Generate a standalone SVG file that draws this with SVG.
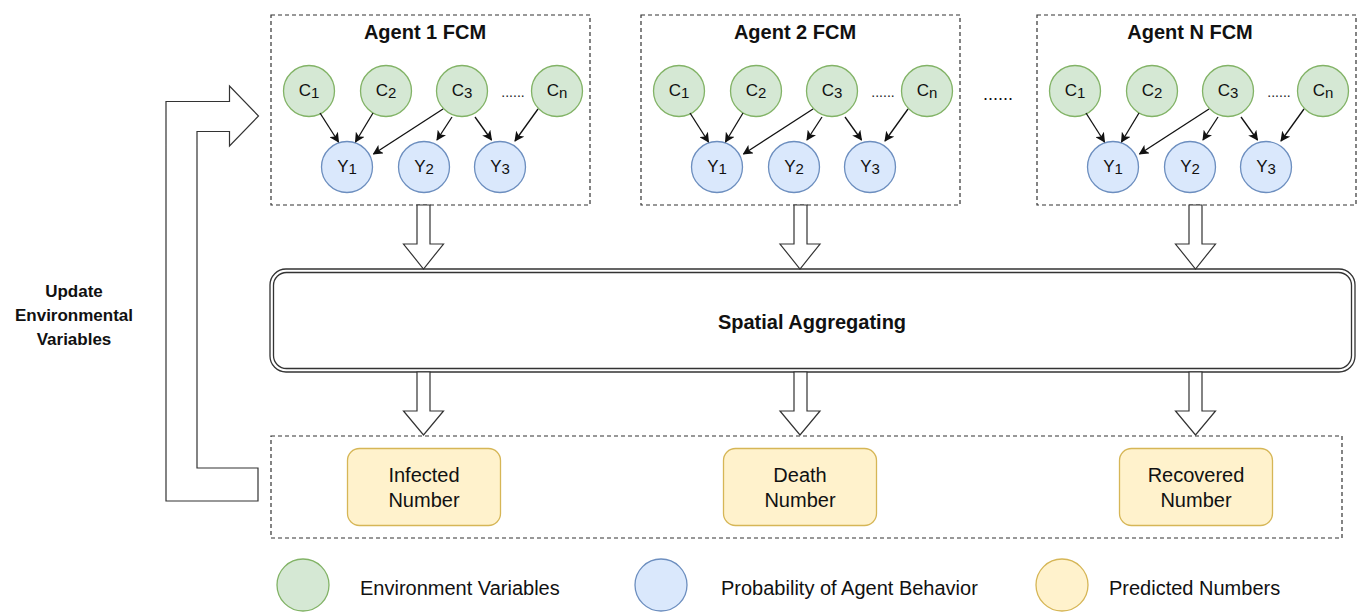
<svg xmlns="http://www.w3.org/2000/svg" width="1360" height="612" viewBox="0 0 1360 612">
<style>
  text { font-family: "Liberation Sans", Arial, sans-serif; fill: #111; }
  .title { font-size: 20px; font-weight: bold; text-anchor: middle; }
  .lbl { font-size: 17px; text-anchor: middle; }
  .sub { font-size: 15px; }
  .box { fill: none; stroke: #333; stroke-width: 1.2; stroke-dasharray: 4 3; }
  .env { fill: #d5e8d4; stroke: #82b366; stroke-width: 1.3; }
  .beh { fill: #dae8fc; stroke: #6c8ebf; stroke-width: 1.3; }
  .pred { fill: #fff2cc; stroke: #d6b656; stroke-width: 1.3; }
  .edge { stroke: #111; stroke-width: 1.3; fill: none; marker-end: url(#ah); }
  .blk { fill: #fff; stroke: #333; stroke-width: 1.2; }
  .num { font-size: 20px; text-anchor: middle; }
  .leg { font-size: 20px; }
  .dots { font-size: 14px; text-anchor: middle; fill: #222; }
</style>
<defs>
  <marker id="ah" viewBox="0 0 10 10" refX="9" refY="5" markerWidth="10" markerHeight="10" markerUnits="userSpaceOnUse" orient="auto">
    <path d="M0,0 L10,5 L0,10 L2.5,5 Z" fill="#111"/>
  </marker>
  <g id="fcm">
    <rect class="box" x="271" y="15" width="319" height="190"/>
    <g id="c1"><circle class="env" cx="309" cy="91" r="25.5"/><text class="lbl" x="309" y="96">C<tspan class="sub" dy="2">1</tspan></text></g>
    <g id="c2"><circle class="env" cx="386" cy="91" r="25.5"/><text class="lbl" x="386" y="96">C<tspan class="sub" dy="2">2</tspan></text></g>
    <g id="c3"><circle class="env" cx="462" cy="91" r="25.5"/><text class="lbl" x="462" y="96">C<tspan class="sub" dy="2">3</tspan></text></g>
    <g id="cn"><circle class="env" cx="557" cy="91" r="25.5"/><text class="lbl" x="557" y="96">C<tspan class="sub" dy="2">n</tspan></text></g>
    <text class="dots" x="513" y="97" fill="#222">......</text>
    <g id="y1"><circle class="beh" cx="347" cy="167" r="25.5"/><text class="lbl" x="347" y="172">Y<tspan class="sub" dy="2">1</tspan></text></g>
    <g id="y2"><circle class="beh" cx="424" cy="167" r="25.5"/><text class="lbl" x="424" y="172">Y<tspan class="sub" dy="2">2</tspan></text></g>
    <g id="y3"><circle class="beh" cx="500" cy="167" r="25.5"/><text class="lbl" x="500" y="172">Y<tspan class="sub" dy="2">3</tspan></text></g>
    <g id="fcm-connectors">
      <line class="edge" x1="320" y1="113" x2="338.5" y2="142"/>
      <line class="edge" x1="373" y1="113" x2="355.5" y2="142"/>
      <line class="edge" x1="443" y1="109" x2="373.5" y2="154"/>
      <line class="edge" x1="452" y1="117" x2="437" y2="140"/>
      <line class="edge" x1="475" y1="117" x2="491.5" y2="140"/>
      <line class="edge" x1="538" y1="109" x2="515" y2="141"/>
    </g>
  </g>
</defs>

<g id="agent1">
  <use href="#fcm"/>
  <text class="title" x="425" y="39">Agent 1 FCM</text>
</g>
<g id="agent2">
  <use href="#fcm" transform="translate(370,0)"/>
  <text class="title" x="795" y="39">Agent 2 FCM</text>
</g>
<g id="agentN">
  <use href="#fcm" transform="translate(766,0)"/>
  <text class="title" x="1190" y="39">Agent N FCM</text>
</g>
<text x="998" y="100" style="font-size:18px;text-anchor:middle">......</text>

<g id="spatial">
  <rect x="270" y="269" width="1085" height="103" rx="16" fill="#fff" stroke="#333" stroke-width="1.3"/>
  <rect x="273.5" y="272.5" width="1078" height="96" rx="13" fill="none" stroke="#333" stroke-width="1.3"/>
  <text class="title" x="812" y="329">Spatial Aggregating</text>
</g>

<g id="outputs">
  <rect class="box" x="271" y="436" width="1071" height="102"/>
  <g id="infected"><rect class="pred" x="347.5" y="448.5" width="153" height="77" rx="12"/>
    <text class="num" x="424" y="482">Infected</text><text class="num" x="424" y="507">Number</text></g>
  <g id="death"><rect class="pred" x="723.5" y="448.5" width="153" height="77" rx="12"/>
    <text class="num" x="800" y="482">Death</text><text class="num" x="800" y="507">Number</text></g>
  <g id="recovered"><rect class="pred" x="1119.5" y="448.5" width="153" height="77" rx="12"/>
    <text class="num" x="1196" y="482">Recovered</text><text class="num" x="1196" y="507">Number</text></g>
</g>

<g id="connectors">
  <polygon class="blk" points="417,205 430,205 430,244 443.5,244 423.5,269 403.5,244 417,244"/>
  <polygon class="blk" points="417,372 430,372 430,411 443.5,411 423.5,435 403.5,411 417,411"/>
  <polygon class="blk" points="794,205 807,205 807,244 820,244 800,269 780,244 794,244"/>
  <polygon class="blk" points="794,372 807,372 807,411 820,411 800,435 780,411 794,411"/>
  <polygon class="blk" points="1189,205 1202,205 1202,244 1215.5,244 1195.5,269 1175.5,244 1189,244"/>
  <polygon class="blk" points="1189,372 1202,372 1202,411 1215.5,411 1195.5,435 1175.5,411 1189,411"/>
  <polygon class="blk" points="166,101.5 229.5,101.5 229.5,86 258.5,116 229.5,146 229.5,131.5 197,131.5 197,468 258,468 258,501 166,501"/>
</g>

<g id="feedback-label">
  <text x="74" y="297" style="font-size:17px;font-weight:bold;text-anchor:middle">Update</text>
  <text x="74" y="321" style="font-size:17px;font-weight:bold;text-anchor:middle">Environmental</text>
  <text x="74" y="345" style="font-size:17px;font-weight:bold;text-anchor:middle">Variables</text>
</g>

<g id="legend">
  <g id="leg-env"><circle class="env" cx="303" cy="585" r="26"/><text class="leg" x="360" y="595">Environment Variables</text></g>
  <g id="leg-beh"><circle class="beh" cx="661" cy="585" r="26"/><text class="leg" x="721" y="595">Probability of Agent Behavior</text></g>
  <g id="leg-pred"><circle class="pred" cx="1062" cy="585" r="26"/><text class="leg" x="1109" y="595">Predicted Numbers</text></g>
</g>
</svg>
